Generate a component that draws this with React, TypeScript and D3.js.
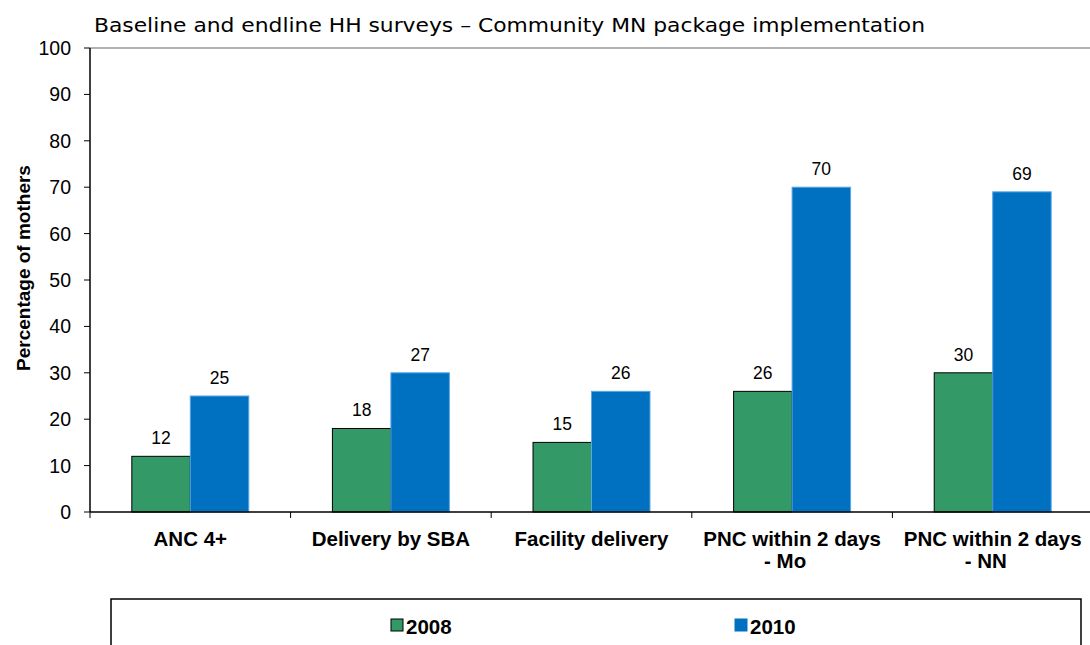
import React from "react";
import * as d3 from "d3";

const categories = [
  ["ANC 4+"],
  ["Delivery by SBA"],
  ["Facility delivery"],
  ["PNC within 2 days", "- Mo"],
  ["PNC within 2 days", "- NN"],
];
const seriesNames = ["2008", "2010"];
// bar heights as drawn in the picture
const values2008 = [12, 18, 15, 26, 30];
const values2010 = [25, 30, 26, 70, 69];
// the printed data labels (not always equal to the bar height)
const labels2008 = [12, 18, 15, 26, 30];
const labels2010 = [25, 27, 26, 70, 69];
const yTicks = [0, 10, 20, 30, 40, 50, 60, 70, 80, 90, 100];

const colors = ["#339966", "#0070c0"];
const strokes = ["#000", "#5aa6e6"];

export default function App() {
  const W = 1090;
  const H = 645;
  const left = 90;
  const right = 1093;
  const top = 48;
  const bottom = 512;

  const x = d3
    .scaleBand<number>()
    .domain(d3.range(categories.length))
    .range([left, right]);
  const inner = d3
    .scaleBand<number>()
    .domain([0, 1])
    .range([0, x.bandwidth()])
    .paddingOuter(0.715)
    .paddingInner(0);
  const y = d3.scaleLinear().domain([0, 100]).range([bottom, top]);

  const series = [values2008, values2010];
  const labels = [labels2008, labels2010];
  const font = "Arial, 'Liberation Sans', sans-serif";

  return (
    <svg
      width={W}
      height={H}
      style={{ position: "absolute", left: 0, top: 0, background: "#fff" }}
    >
      <text
        x={94}
        y={32}
        fontFamily="'DejaVu Sans', Tahoma, sans-serif"
        fontSize={20}
        textLength={831}
        lengthAdjust="spacingAndGlyphs"
        fill="#000"
      >
        Baseline and endline HH surveys – Community MN package implementation
      </text>

      {/* top border */}
      <line x1={left} x2={right} y1={y(100)} y2={y(100)} stroke="#999" strokeWidth={1.5} />

      {/* bars */}
      {series.map((vals, s) =>
        vals.map((v, i) => {
          const bx = (x(i) as number) + (inner(s) as number);
          return (
            <rect
              key={`b${s}-${i}`}
              x={bx}
              y={y(v)}
              width={inner.bandwidth()}
              height={y(0) - y(v)}
              fill={colors[s]}
              stroke={strokes[s]}
              strokeWidth={1}
            />
          );
        })
      )}

      {/* data labels */}
      {series.map((vals, s) =>
        vals.map((v, i) => (
          <text
            key={`l${s}-${i}`}
            x={(x(i) as number) + (inner(s) as number) + inner.bandwidth() / 2}
            y={y(v) - 12}
            textAnchor="middle"
            fontFamily={font}
            fontSize={17.5}
            fill="#000"
          >
            {labels[s][i]}
          </text>
        ))
      )}

      {/* y axis */}
      <line x1={left} x2={left} y1={top} y2={bottom} stroke="#000" strokeWidth={1.5} />
      {yTicks.map((t) => (
        <g key={`t${t}`}>
          <line x1={left - 6} x2={left} y1={y(t)} y2={y(t)} stroke="#000" strokeWidth={1} />
          <text
            x={71}
            y={y(t) + 7}
            textAnchor="end"
            fontFamily={font}
            fontSize={19.5}
            fill="#000"
          >
            {t}
          </text>
        </g>
      ))}
      <text
        transform={`translate(30,${268}) rotate(-90)`}
        textAnchor="middle"
        fontFamily={font}
        fontWeight="bold"
        fontSize={19}
        fill="#000"
      >
        Percentage of mothers
      </text>

      {/* x axis */}
      <line x1={left} x2={right} y1={bottom} y2={bottom} stroke="#000" strokeWidth={1.5} />
      {categories.map((c, i) => (
        <g key={`c${i}`}>
          <line
            x1={x(i) as number}
            x2={x(i) as number}
            y1={bottom}
            y2={bottom + 6}
            stroke="#000"
          />
          {c.map((line, k) => (
            <text
              key={k}
              x={(x(i) as number) + x.bandwidth() / 2 - (k > 0 ? 7 : 0)}
              y={546 + k * 22}
              textAnchor="middle"
              fontFamily={font}
              fontWeight="bold"
              fontSize={20.5}
              fill="#000"
            >
              {line}
            </text>
          ))}
        </g>
      ))}

      {/* legend */}
      <rect x={111} y={599} width={970} height={60} fill="#fff" stroke="#000" strokeWidth={1.5} />
      {seriesNames.map((n, s) => (
        <g key={`lg${s}`}>
          <rect
            x={s === 0 ? 391 : 735}
            y={619}
            width={12}
            height={12}
            fill={colors[s]}
            stroke={s === 0 ? "#000" : colors[s]}
            strokeWidth={1}
          />
          <text
            x={s === 0 ? 406 : 750}
            y={634}
            fontFamily={font}
            fontWeight="bold"
            fontSize={20.5}
            fill="#000"
          >
            {n}
          </text>
        </g>
      ))}
    </svg>
  );
}
